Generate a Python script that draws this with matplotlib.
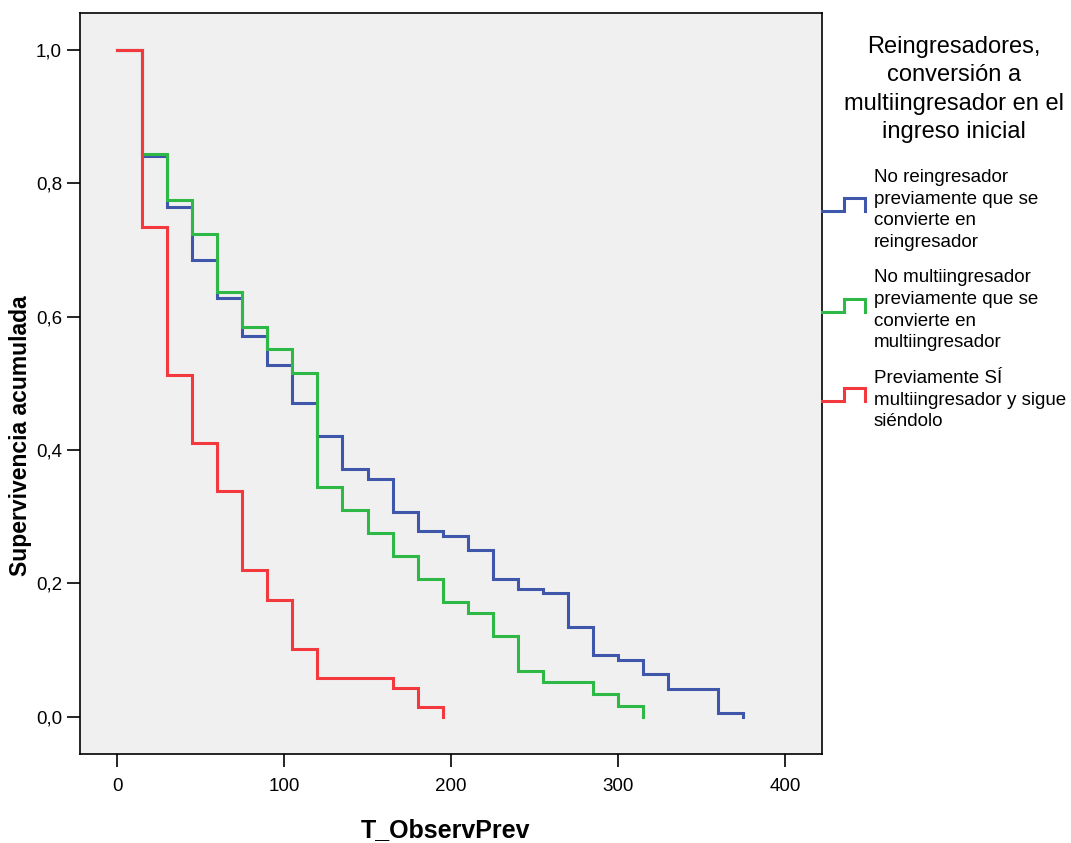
import matplotlib
matplotlib.use('Agg')
import matplotlib.pyplot as plt
from matplotlib.legend_handler import HandlerBase
from matplotlib.lines import Line2D
from matplotlib.ticker import FuncFormatter

plt.rcParams['font.family'] = ['Liberation Sans', 'DejaVu Sans']

# Kaplan-Meier steps (time in days, cumulative survival)
blue_t = [0, 15, 30, 45, 60, 75, 90, 105, 120, 135, 150, 165, 180, 195, 210,
          225, 240, 255, 270, 285, 300, 315, 330, 360, 375]
blue_s = [1.0, 0.841, 0.764, 0.685, 0.628, 0.571, 0.528, 0.471, 0.421, 0.371,
          0.357, 0.307, 0.278, 0.271, 0.250, 0.207, 0.192, 0.185, 0.135, 0.092,
          0.085, 0.064, 0.042, 0.006, 0.0]

green_t = [0, 15, 30, 45, 60, 75, 90, 105, 120, 135, 150, 165, 180, 195, 210,
           225, 240, 255, 285, 300, 315]
green_s = [1.0, 0.844, 0.775, 0.724, 0.637, 0.585, 0.551, 0.516, 0.345, 0.310,
           0.276, 0.241, 0.207, 0.172, 0.155, 0.121, 0.069, 0.052, 0.034, 0.016,
           0.0]

red_t = [0, 15, 30, 45, 60, 75, 90, 105, 120, 165, 180, 195]
red_s = [1.0, 0.734, 0.513, 0.411, 0.339, 0.220, 0.175, 0.102, 0.058, 0.0435,
         0.014, 0.0]

legend_title = 'Reingresadores,\nconversión a\nmultiingresador en el\ningreso inicial'
labels = ['No reingresador\npreviamente que se\nconvierte en\nreingresador',
          'No multiingresador\npreviamente que se\nconvierte en\nmultiingresador',
          'Previamente SÍ\nmultiingresador y sigue\nsiéndolo']
colors = ['#3E57AB', '#2EB846', '#F4393E']


class StepHandler(HandlerBase):
    # little step glyph like the SPSS legend
    def create_artists(self, legend, orig_handle, xdescent, ydescent,
                       width, height, fontsize, trans):
        x0 = -xdescent
        y0 = -ydescent + 0.28 * fontsize
        xs = [x0, x0 + 0.5 * width, x0 + 0.5 * width, x0 + width, x0 + width]
        ys = [y0, y0, y0 + height, y0 + height, y0]
        line = Line2D(xs, ys, color=orig_handle.get_color(),
                      linewidth=orig_handle.get_linewidth(), transform=trans,
                      solid_joinstyle='miter')
        return [line]


fig = plt.figure(figsize=(10.71, 8.43), dpi=100)
ax = fig.add_axes([0.0747, 0.1056, 0.6928, 0.879])
ax.set_facecolor('#F0F0F0')

handles = []
for t, s, c, lab in zip([blue_t, green_t, red_t], [blue_s, green_s, red_s],
                        colors, labels):
    h, = ax.step(t, s, where='post', color=c, linewidth=2.2, label=lab,
                 solid_joinstyle='miter')
    handles.append(h)

ax.set_xlim(-22.2, 422.2)
ax.set_ylim(-0.056, 1.0555)
ax.set_xticks([0, 100, 200, 300, 400])
ax.set_yticks([0.0, 0.2, 0.4, 0.6, 0.8, 1.0])
ax.yaxis.set_major_formatter(FuncFormatter(lambda v, p: f'{v:.1f}'.replace('.', ',')))
ax.tick_params(direction='out', length=9.5, width=1.2, labelsize=13.5)
ax.tick_params(axis='x', pad=8)
for sp in ax.spines.values():
    sp.set_linewidth(1.2)

ax.set_xlabel('T_ObservPrev', fontsize=18, fontweight='bold')
ax.xaxis.set_label_coords(0.493, -0.086)
ax.set_ylabel('Supervivencia acumulada', fontsize=16.5, fontweight='bold')
ax.yaxis.set_label_coords(-0.0647, 0.429)

fig.text(954 / 1071, 1 - 36 / 843, legend_title, ha='center', va='top',
         fontsize=17, linespacing=1.37, multialignment='center')

leg = ax.legend(handles=handles, labels=labels,
                handler_map={h: StepHandler() for h in handles},
                loc='upper left', bbox_to_anchor=(822 / 1071, 1 - 169 / 843),
                bbox_transform=fig.transFigure, frameon=False,
                fontsize=13.5, handlelength=2.3,
                handleheight=0.7, handletextpad=0.45, labelspacing=0.98,
                borderaxespad=0, borderpad=0)
for txt in leg.get_texts():
    txt.set_linespacing(1.36)

fig.savefig('out.png', dpi=100)
